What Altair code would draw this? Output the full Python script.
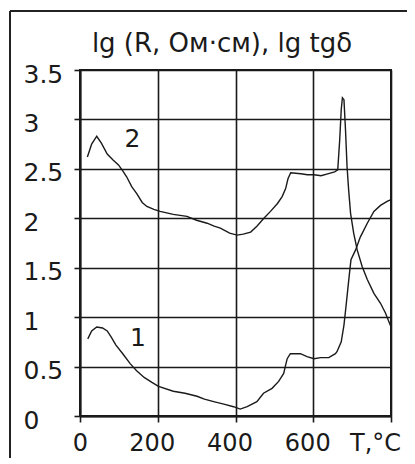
import altair as alt
import pandas as pd

# Curve 1 (lower)
t1 = [20, 30, 43, 58, 70, 80, 92, 110, 129, 145, 165, 185, 202, 240, 270, 301, 320, 344, 370, 395,
      412, 430, 455, 472, 494, 511, 524, 528, 533, 541, 567, 584, 602, 619, 640, 657, 661, 672, 679,
      684, 688, 692, 697, 709, 721, 739, 756, 773, 790, 800]
v1 = [0.78, 0.86, 0.90, 0.89, 0.86, 0.80, 0.72, 0.63, 0.53, 0.46, 0.39, 0.34, 0.30, 0.25, 0.23, 0.20,
      0.17, 0.145, 0.12, 0.094, 0.07, 0.094, 0.145, 0.23, 0.28, 0.35, 0.43, 0.50, 0.58, 0.63, 0.63,
      0.60, 0.58, 0.59, 0.59, 0.63, 0.65, 0.75, 0.92, 1.10, 1.25, 1.40, 1.58, 1.68, 1.81, 1.95, 2.07,
      2.13, 2.17, 2.19]

# Curve 2 (upper)
t2 = [19, 30, 43, 55, 70, 85, 99, 110, 120, 133, 146, 160, 172, 190, 206, 240, 275, 300, 327, 345,
      361, 385, 404, 420, 439, 455, 473, 490, 508, 520, 529, 535, 542, 568, 585, 602, 620, 637, 655,
      663, 668, 672, 675, 679, 683, 687, 691, 696, 704, 713, 726, 739, 756, 773, 786, 800]
v2 = [2.62, 2.75, 2.83, 2.76, 2.65, 2.59, 2.54, 2.48, 2.42, 2.32, 2.25, 2.16, 2.12, 2.09, 2.07, 2.04,
      2.02, 1.98, 1.95, 1.92, 1.90, 1.85, 1.83, 1.84, 1.86, 1.92, 2.00, 2.07, 2.15, 2.22, 2.30, 2.40,
      2.46, 2.45, 2.44, 2.44, 2.43, 2.45, 2.47, 2.49, 2.79, 3.10, 3.22, 3.20, 2.89, 2.52, 2.29, 2.05,
      1.85, 1.68, 1.51, 1.38, 1.24, 1.14, 1.04, 0.90]

label_names = ["1", "2"]
label_t = [149, 135]
label_v = [0.79, 2.80]

x_ticks = [0, 200, 400, 600, 800]
y_ticks = [0, 0.5, 1, 1.5, 2, 2.5, 3, 3.5]
title_text = "lg (R, Ом·см), lg tgδ"
x_unit = "T,°C"

FONT = "DejaVu Sans"
INK = "#1a1a1a"

curves = pd.concat([
    pd.DataFrame({"series": "1", "T": t1, "v": v1}),
    pd.DataFrame({"series": "2", "T": t2, "v": v2}),
])
labels = pd.DataFrame({"label": label_names, "T": label_t, "v": label_v})
one = pd.DataFrame({"a": [0]})

W, H = 311, 346

xscale = alt.Scale(domain=[0, 800], nice=False, zero=False)
yscale = alt.Scale(domain=[0, 3.5], nice=False)

xaxis = alt.Axis(
    values=x_ticks, title=None, grid=True, gridColor=INK, gridWidth=1.6,
    domainColor=INK, domainWidth=2, tickColor=INK, tickWidth=1.6, tickSize=6,
    labelFont=FONT, labelFontSize=24, labelColor=INK, labelPadding=9,
    labelExpr=f"datum.value == 800 ? '{x_unit}' : datum.label",
    labelOffset={"condition": [{"test": "datum.value == 0", "value": 0},
                               {"test": "datum.value == 800", "value": -16}],
                 "value": -6},
    labelFlush=False, labelOverlap=False,
)
yaxis = alt.Axis(
    values=y_ticks, title=None, format="~g", grid=True, gridColor=INK, gridWidth=1.6,
    domainColor=INK, domainWidth=2, tickColor=INK, tickWidth=1.6, tickSize=6,
    labelFont=FONT, labelFontSize=25, labelColor=INK, labelAlign="left",
    labelPadding=51, labelOffset=4, labelFlush=False, labelOverlap=False,
)

lines = alt.Chart(curves).mark_line(color=INK, strokeWidth=1.4, interpolate="linear").encode(
    x=alt.X("T:Q", scale=xscale, axis=xaxis),
    y=alt.Y("v:Q", scale=yscale, axis=yaxis),
    detail="series:N",
    order="T:Q",
)

txt = alt.Chart(labels).mark_text(font=FONT, fontSize=25, color=INK, align="center",
                                  baseline="middle").encode(
    x=alt.X("T:Q", scale=xscale),
    y=alt.Y("v:Q", scale=yscale),
    text="label:N",
)

title = alt.Chart(one).mark_text(text=title_text, font=FONT, fontSize=26, color=INK,
                                 align="center", baseline="alphabetic").encode(
    x=alt.value(142), y=alt.value(-18)
)

frame_top = alt.Chart(one).mark_rule(color="#222", strokeWidth=2).encode(
    x=alt.value(-70), x2=alt.value(W + 20), y=alt.value(-59)
)
frame_left = alt.Chart(one).mark_rule(color="#222", strokeWidth=2).encode(
    x=alt.value(-70), y=alt.value(-59), y2=alt.value(H + 50)
)

chart = alt.layer(lines, txt, title, frame_top, frame_left).properties(
    width=W, height=H,
    autosize=alt.AutoSizeParams(type="none"),
    padding={"left": 72, "top": 62, "right": 16, "bottom": 42},
    background="white",
).configure_view(stroke=INK, strokeWidth=2)

chart.save("out.html", embed_options={"renderer": "svg", "actions": False})
